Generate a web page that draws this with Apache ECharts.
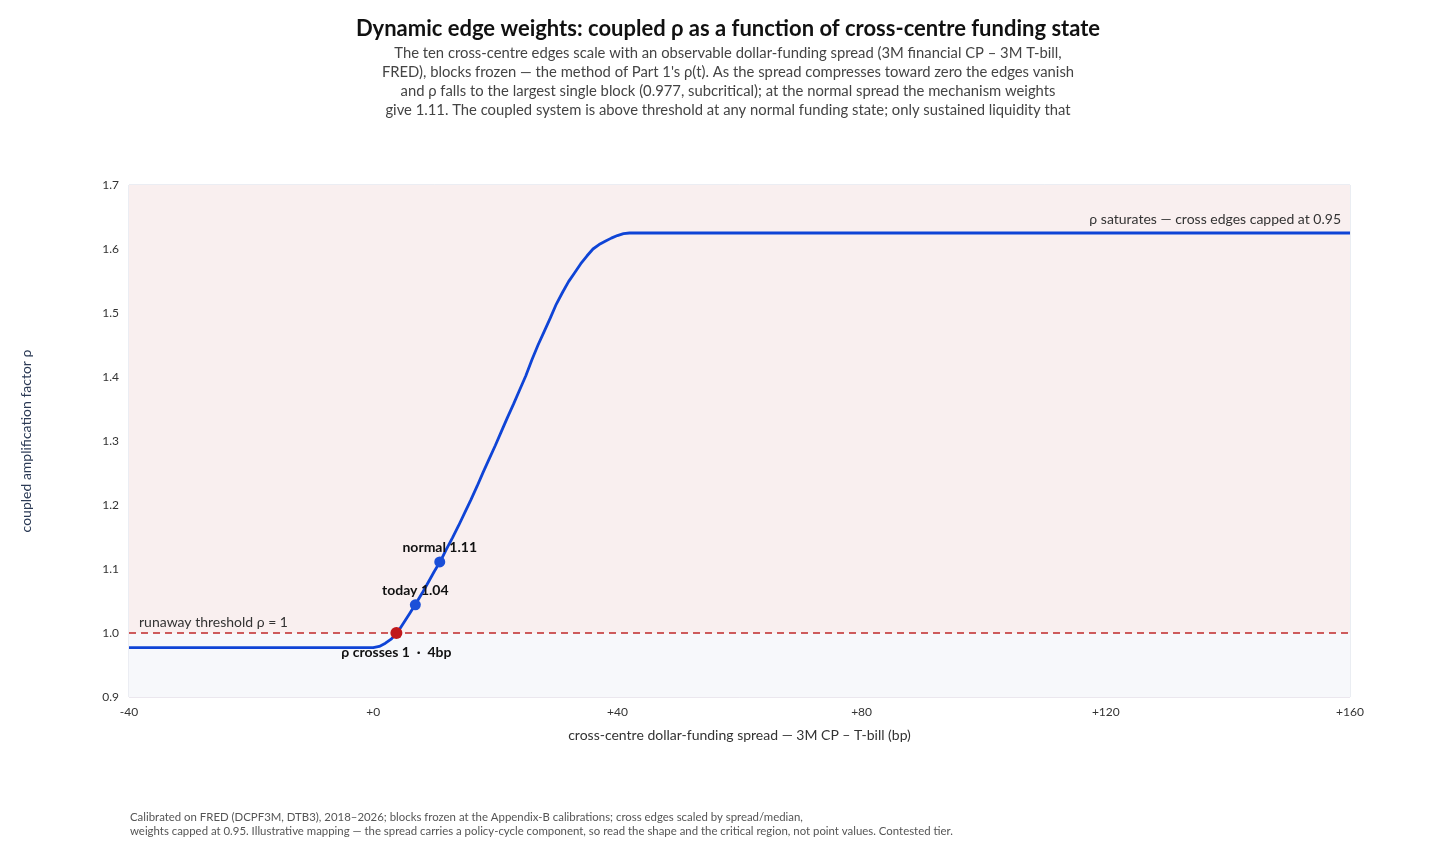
<!DOCTYPE html>
<html>
<head>
<meta charset="utf-8">
<script src="https://cdn.jsdelivr.net/npm/echarts@6/dist/echarts.min.js"></script>
<style>
  html, body { margin: 0; padding: 0; background: #fff; }
  #chart { width: 1456px; height: 850px; }
</style>
</head>
<body>
<div id="chart"></div>
<script>
// spread (bp) and coupled rho
const spread = [-40, -20, 0, 1, 2, 3, 4, 5, 6, 7, 8, 9, 10, 11, 12, 13, 14, 15, 16, 17, 18, 19, 20,
  21, 22, 23, 24, 25, 26, 27, 28, 29, 30, 31, 32, 33, 34, 35, 36, 37, 38, 39, 40, 41, 42, 80, 120, 160];
const rho = [0.977, 0.977, 0.977, 0.979, 0.984, 0.991, 1.001, 1.016, 1.031, 1.046, 1.062, 1.079, 1.096,
  1.112, 1.131, 1.149, 1.168, 1.188, 1.208, 1.229, 1.251, 1.272, 1.293, 1.315, 1.337, 1.358, 1.380,
  1.402, 1.427, 1.450, 1.471, 1.492, 1.514, 1.532, 1.549, 1.563, 1.577, 1.589, 1.600, 1.607, 1.612,
  1.617, 1.621, 1.624, 1.625, 1.625, 1.625, 1.625];

const crossPoint = [3.8, 1.0];
const markedNames = ['today 1.04', 'normal 1.11'];
const markedPoints = [[6.9, 1.044], [10.9, 1.111]];
const threshold = 1.0;
const xTicks = [-40, 0, 40, 80, 120, 160];

const subtitle = [
  "The ten cross-centre edges scale with an observable dollar-funding spread (3M financial CP \u2013 3M T-bill,",
  "FRED), blocks frozen \u2014 the method of Part 1's \u03c1(t). As the spread compresses toward zero the edges vanish",
  "and \u03c1 falls to the largest single block (0.977, subcritical); at the normal spread the mechanism weights",
  "give 1.11. The coupled system is above threshold at any normal funding state; only sustained liquidity that"
].join('\n');

const footer = [
  "Calibrated on FRED (DCPF3M, DTB3), 2018\u20132026; blocks frozen at the Appendix-B calibrations; cross edges scaled by spread/median,",
  "weights capped at 0.95. Illustrative mapping \u2014 the spread carries a policy-cycle component, so read the shape and the critical region, not point values. Contested tier."
].join('\n');

const FONT = 'Lato, "Noto Sans", sans-serif';

let chart = echarts.init(document.getElementById('chart'));
let option = {
  backgroundColor: '#ffffff',
  textStyle: { fontFamily: FONT },
  title: [{
    text: 'Dynamic edge weights: coupled \u03c1 as a function of cross-centre funding state',
    left: 'center',
    top: 13,
    textStyle: { fontSize: 22, fontWeight: 'bold', color: '#111', fontFamily: FONT },
    subtext: subtitle,
    itemGap: 4,
    subtextStyle: { fontSize: 14.8, color: '#444', lineHeight: 19, align: 'center', fontFamily: FONT }
  }, {
    text: footer,
    left: 125,
    top: 805,
    textStyle: { fontSize: 11.4, fontWeight: 'normal', color: '#555', lineHeight: 14.5, fontFamily: FONT }
  }],
  grid: {
    left: 129, right: 106, top: 185, bottom: 153,
    show: true, borderColor: '#d6dbe6', borderWidth: 1, backgroundColor: 'transparent'
  },
  xAxis: {
    type: 'value',
    min: -40, max: 160, interval: 40,
    name: 'cross-centre dollar-funding spread \u2014 3M CP \u2013 T-bill (bp)',
    nameLocation: 'middle',
    nameGap: 31,
    nameTextStyle: { fontSize: 14, color: '#333' },
    axisLine: { show: false },
    axisTick: { show: false },
    splitLine: { show: false },
    axisLabel: {
      fontSize: 12, color: '#333', margin: 9,
      formatter: v => xTicks.indexOf(v) >= 0 && v >= 0 ? '+' + v : String(v)
    }
  },
  yAxis: {
    type: 'value',
    min: 0.9, max: 1.7, interval: 0.1,
    name: 'coupled amplification factor \u03c1',
    nameLocation: 'middle',
    nameGap: 96,
    nameTextStyle: { fontSize: 14, color: '#2b3a55' },
    axisLine: { show: false },
    axisTick: { show: false },
    splitLine: { lineStyle: { color: '#ebe7ee', width: 1 } },
    axisLabel: { fontSize: 12, color: '#333', margin: 10, formatter: v => v.toFixed(1) }
  },
  series: [{
    type: 'line',
    data: spread.map((x, i) => [x, rho[i]]),
    showSymbol: false,
    symbol: 'none',
    smooth: false,
    lineStyle: { color: '#0f44d6', width: 2.8 },
    z: 3,
    markArea: {
      silent: true,
      data: [
        [{ yAxis: threshold, itemStyle: { color: '#f9efef' } }, { yAxis: 1.7 }],
        [{ yAxis: 0.9, itemStyle: { color: '#f7f8fb' } }, { yAxis: threshold }]
      ]
    },
    markLine: {
      silent: true,
      symbol: 'none',
      lineStyle: { color: '#c0282a', type: [7, 5], width: 1.5 },
      label: {
        show: true, position: 'insideStartTop', distance: [10, 4],
        formatter: 'runaway threshold \u03c1 = 1', color: '#333', fontSize: 14
      },
      data: [{ yAxis: threshold }]
    },
    markPoint: {
      silent: true,
      symbol: 'circle', symbolSize: 0,
      data: [{
        coord: [160, 1.625],
        label: {
          show: true, position: 'left', offset: [-4, -14],
          formatter: '\u03c1 saturates \u2014 cross edges capped at 0.95', color: '#333', fontSize: 14
        }
      }]
    }
  }, {
    type: 'scatter',
    data: markedPoints,
    symbolSize: 11,
    itemStyle: { color: '#1b4fd8', opacity: 1 },
    z: 5,
    label: {
      show: true, position: 'top', distance: 2,
      formatter: p => markedNames[p.dataIndex],
      color: '#111', fontSize: 14, fontWeight: 'bold'
    }
  }, {
    type: 'scatter',
    data: [crossPoint],
    symbolSize: 12,
    itemStyle: { color: '#c0171b', opacity: 1 },
    z: 6,
    label: {
      show: true, position: 'bottom', distance: 6,
      formatter: '\u03c1 crosses 1  \u00b7  4bp',
      color: '#111', fontSize: 14, fontWeight: 'bold'
    }
  }]
};
chart.setOption(option);
</script>
</body>
</html>
